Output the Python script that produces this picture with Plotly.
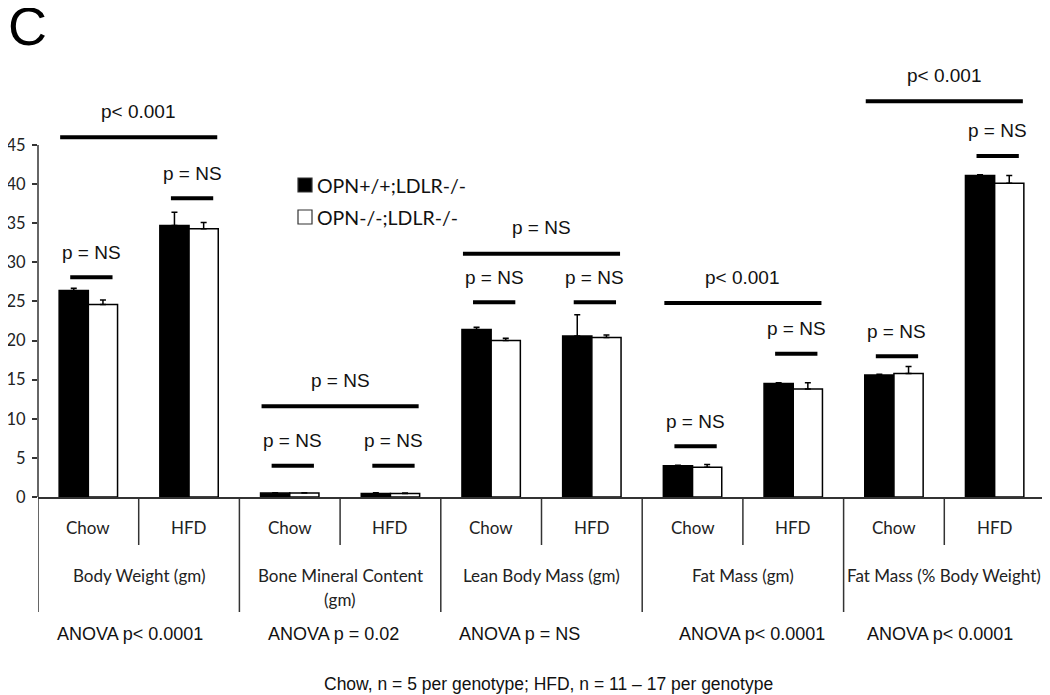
import plotly.graph_objects as go

# ---- data ----
sub_labels = ["Chow", "HFD"] * 5
group_labels = ["Body Weight (gm)", "Bone Mineral Content", "Lean Body Mass (gm)",
                "Fat Mass (gm)", "Fat Mass (% Body Weight)"]
group_sublabels = ["", "(gm)", "", "", ""]
anova_labels = ["ANOVA p< 0.0001", "ANOVA p = 0.02", "ANOVA p = NS",
                "ANOVA p< 0.0001", "ANOVA p< 0.0001"]
series_names = ["OPN+/+;LDLR-/-", "OPN-/-;LDLR-/-"]
wt_values = [26.4, 34.7, 0.5, 0.45, 21.4, 20.6, 4.0, 14.5, 15.6, 41.1]
wt_err = [0.3, 1.7, 0.05, 0.1, 0.3, 2.7, 0.05, 0.1, 0.1, 0.1]
ko_values = [24.6, 34.3, 0.5, 0.45, 20.0, 20.4, 3.8, 13.8, 15.8, 40.1]
ko_err = [0.6, 0.8, 0.05, 0.05, 0.3, 0.3, 0.35, 0.8, 0.9, 1.0]
# significance labels: pairwise (per category) and per measure (Chow vs HFD)
pair_p = ["p = NS"] * 10
group_p = ["p< 0.001", "p = NS", "p = NS", "p< 0.001", "p< 0.001"]
y_ticks = [0, 5, 10, 15, 20, 25, 30, 35, 40, 45]
footnote = "Chow, n = 5 per genotype; HFD, n = 11 \u2013 17 per genotype"

x = list(range(len(sub_labels)))

# page has an 8px body margin; figure sized so the plot area lands where the reference has it
W, H = 1042, 687
ML, MR, MT, MB = 30, 5, 51, 198
PW = W - ML - MR          # plot width in px
PH = H - MT - MB          # plot height in px


def px_x(px):  # page x pixel -> paper x
    return (px - 8 - ML) / PW


def px_y(py):  # page y pixel -> paper y
    return (H - MB - (py - 8)) / PH


fig = go.Figure()
fig.add_trace(go.Bar(
    x=x, y=wt_values, name=series_names[0], showlegend=False,
    marker=dict(color="black", line=dict(color="black", width=1.5)),
    error_y=dict(type="data", symmetric=False, array=wt_err,
                 arrayminus=[0] * len(wt_err), color="black", thickness=1.5, width=3),
))
fig.add_trace(go.Bar(
    x=x, y=ko_values, name=series_names[1], showlegend=False,
    marker=dict(color="white", line=dict(color="black", width=1.5)),
    error_y=dict(type="data", symmetric=False, array=ko_err,
                 arrayminus=[0] * len(ko_err), color="black", thickness=1.5, width=3),
))

shapes = []
annotations = []

# y axis line (0..45 only)
shapes.append(dict(type="line", xref="paper", yref="y", x0=0, x1=0, y0=0, y1=max(y_ticks),
                   line=dict(color="#333", width=1.5)))

# vertical dividers under the axis
for k in range(len(x) + 1):
    xb = k - 0.5
    long_line = (k % 2 == 0)
    shapes.append(dict(type="line", xref="x", yref="paper", x0=xb, x1=xb, y0=0,
                       y1=-115 / PH if long_line else -48 / PH,
                       line=dict(color="#333", width=1.5)))

# category labels
lab_font = dict(family="Lato, Open Sans, sans-serif", size=17, color="#222")
for i, lab in enumerate(sub_labels):
    annotations.append(dict(x=i, y=0, xref="x", yref="paper", yshift=-30, text=lab,
                            showarrow=False, font=lab_font, xanchor="center",
                            yanchor="middle"))
for g, lab in enumerate(group_labels):
    annotations.append(dict(x=2 * g + 0.5, y=0, xref="x", yref="paper", yshift=-78,
                            text=lab, showarrow=False, font=lab_font, xanchor="center",
                            yanchor="middle"))
    if group_sublabels[g]:
        annotations.append(dict(x=2 * g + 0.5, y=0, xref="x", yref="paper", yshift=-102,
                                text=group_sublabels[g], showarrow=False, font=lab_font,
                                xanchor="center", yanchor="middle"))

arial = "Liberation Sans, Arial, sans-serif"
anova_px = [130, 333, 519, 752, 940]
for g, lab in enumerate(anova_labels):
    annotations.append(dict(x=px_x(anova_px[g]), y=px_y(634), xref="paper", yref="paper",
                            text=lab, showarrow=False, xanchor="center",
                            font=dict(family=arial, size=18, color="#111"), yanchor="middle"))
annotations.append(dict(x=px_x(548), y=px_y(684), xref="paper", yref="paper",
                        text=footnote, showarrow=False, xanchor="center",
                        font=dict(family=arial, size=17.5, color="#111"), yanchor="middle"))

# significance brackets
p_font = dict(family=arial, size=19, color="#111")
pair_y = [28.1, 38.2, 4.0, 4.0, 24.9, 24.9, 6.5, 18.3, 18.0, 43.6]
group_y = [46.0, 11.6, 31.1, 24.8, 50.6]
for i in range(len(x)):
    xc = i + 0.03
    shapes.append(dict(type="line", xref="x", yref="y", x0=xc - 0.21, x1=xc + 0.21,
                       y0=pair_y[i], y1=pair_y[i], line=dict(color="black", width=4)))
    annotations.append(dict(x=xc, y=pair_y[i], xref="x", yref="y", yshift=25,
                            text=pair_p[i], showarrow=False, font=p_font,
                            xanchor="center", yanchor="middle"))
for g in range(len(group_y)):
    xc = 2 * g + 0.5
    shapes.append(dict(type="line", xref="x", yref="y", x0=xc - 0.78, x1=xc + 0.78,
                       y0=group_y[g], y1=group_y[g], line=dict(color="black", width=4)))
    annotations.append(dict(x=xc, y=group_y[g], xref="x", yref="y", yshift=26,
                            text=group_p[g], showarrow=False, font=p_font,
                            xanchor="center", yanchor="middle"))

# legend (drawn by hand to match the reference layout)
leg_colors = ["black", "white"]
leg_rows = [185, 217]
for name, col, row in zip(series_names, leg_colors, leg_rows):
    shapes.append(dict(type="rect", xref="paper", yref="paper",
                       x0=px_x(298), x1=px_x(312), y0=px_y(row + 7), y1=px_y(row - 7),
                       fillcolor=col, line=dict(color="#333", width=1.2)))
    annotations.append(dict(x=px_x(315), y=px_y(row), xref="paper", yref="paper",
                            xanchor="left", yanchor="middle", text=name, showarrow=False,
                            font=dict(family="Lato, sans-serif", size=19.5, color="#111")))

# panel letter
annotations.append(dict(x=px_x(6), y=px_y(26), xref="paper", yref="paper",
                        xanchor="left", yanchor="middle", text="C", showarrow=False,
                        font=dict(family=arial, size=54, color="black")))

fig.update_layout(
    width=W, height=H,
    margin=dict(l=ML, r=MR, t=MT, b=MB, autoexpand=False),
    paper_bgcolor="white", plot_bgcolor="white",
    barmode="group", bargap=0.42, bargroupgap=0,
    showlegend=False,
    xaxis=dict(range=[-0.5, 9.5], showticklabels=False, ticks="", showgrid=False,
               zeroline=False, showline=True, linecolor="#333", linewidth=1.5,
               automargin=False),
    yaxis=dict(range=[0, 56], tickvals=y_ticks, ticks="outside", ticklen=5,
               tickcolor="#333", tickwidth=1.5, showgrid=False, zeroline=False,
               showline=False, ticklabelstandoff=3, automargin=False,
               tickfont=dict(family="Lato, sans-serif", size=16.5, color="#222")),
    shapes=shapes, annotations=annotations,
)

fig.write_html("out.html")
